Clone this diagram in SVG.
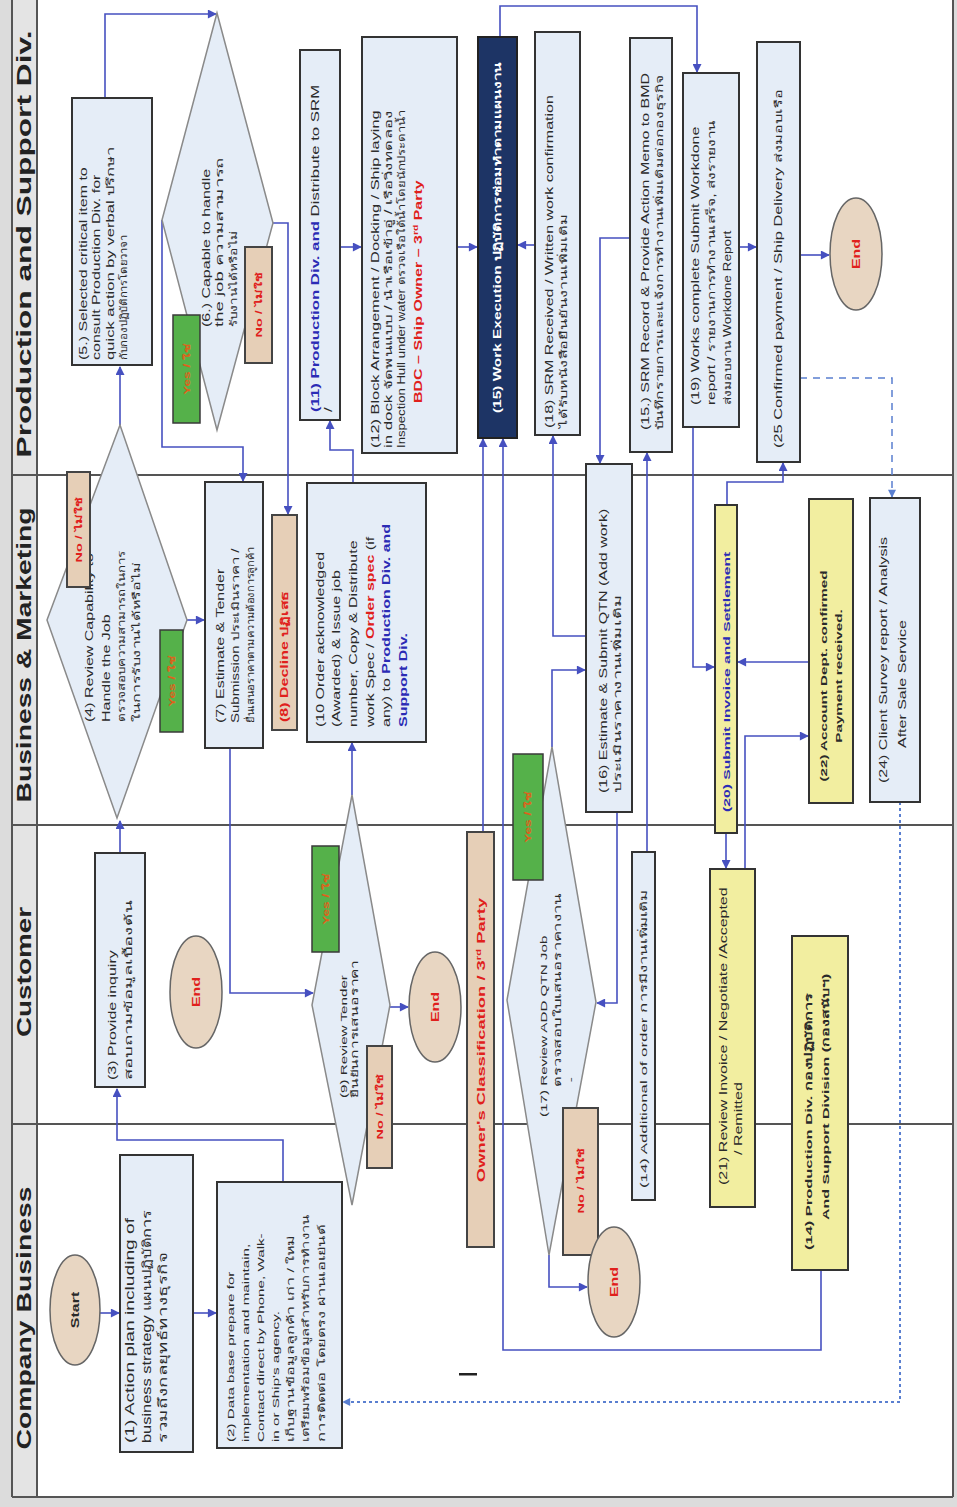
<svg xmlns="http://www.w3.org/2000/svg" width="957" height="1507" viewBox="0 0 957 1507">
<defs>
<marker id="ah" viewBox="0 0 10 10" refX="9" refY="5" markerWidth="10" markerHeight="9" markerUnits="userSpaceOnUse" orient="auto"><path d="M0,0 L10,5 L0,10 z" fill="#4650c0"/></marker>
<marker id="ahd" viewBox="0 0 10 10" refX="9" refY="5" markerWidth="9" markerHeight="8" markerUnits="userSpaceOnUse" orient="auto"><path d="M0,0 L10,5 L0,10 z" fill="#5a7fd0"/></marker>
</defs>
<style>
.t{font-family:"Liberation Sans","Noto Sans","DejaVu Sans",sans-serif;font-size:10px;fill:#2a2a2a}
.bd{font-weight:bold}
.red{fill:#e0201c;font-weight:bold}
.blu{fill:#2b2bb5;font-weight:bold}
.wht{fill:#ffffff;font-weight:bold}
.yes{fill:#e0601a;font-weight:bold;font-size:8.5px}
.no{fill:#e0201c;font-weight:bold;font-size:9px}
.lane{font-family:"Liberation Sans","Noto Sans",sans-serif;font-weight:bold;font-size:21px;fill:#222}
.box{fill:#e5edf7;stroke:#333;stroke-width:2}
.dia{fill:#e5edf7;stroke:#8a8a8a;stroke-width:1.5}
.tan{fill:#e6cfb7;stroke:#444;stroke-width:2}
.grn{fill:#55b14a;stroke:#3a3a3a;stroke-width:1.5}
.yel{fill:#f2eea0;stroke:#333;stroke-width:2}
.nav{fill:#1d3465;stroke:#222;stroke-width:2}
.end{fill:#e8d6c2;stroke:#666;stroke-width:1.5}
.ln{stroke:#555;stroke-width:2;fill:none}
.c{fill:none;stroke:#4650c0;stroke-width:1.6;marker-end:url(#ah)}
.d{fill:none;stroke:#5a7fd0;stroke-width:1.5;stroke-dasharray:7 6;marker-end:url(#ahd)}
.dt{fill:none;stroke:#5a7fd0;stroke-width:2;stroke-dasharray:3 3;marker-end:url(#ahd)}
</style>

<g id="background">
<rect x="0" y="0" width="957" height="1507" fill="#dcdcdc"/>
<rect x="12" y="0" width="942" height="1497" fill="#ffffff"/>
<rect x="12" y="0" width="25" height="1497" fill="#e4e4e4"/>
<path class="ln" d="M12,0 V1497 M37,0 V1497 M953,0 V1497 M12,1497 H953 M12,475 H953 M12,825 H953 M12,1124 H953"/>
<text class="lane" text-anchor="middle" textLength="427" lengthAdjust="spacingAndGlyphs" transform="translate(31,244) rotate(-90)">Production and Support Div.</text>
<text class="lane" text-anchor="middle" textLength="295" lengthAdjust="spacingAndGlyphs" transform="translate(31,655) rotate(-90)">Business &amp; Marketing</text>
<text class="lane" text-anchor="middle" textLength="130" lengthAdjust="spacingAndGlyphs" transform="translate(31,972) rotate(-90)">Customer</text>
<text class="lane" text-anchor="middle" textLength="263" lengthAdjust="spacingAndGlyphs" transform="translate(31,1318) rotate(-90)">Company Business</text>
<rect x="459" y="1373" width="18" height="2.5" fill="#222"/>
</g>

<g id="connectors">
<path class="c" d="M100,1313 H119"/>
<path class="c" d="M193,1313 H216"/>
<path class="c" d="M283,1182 V1140 H117 V1089"/>
<path class="c" d="M120,853 V821"/>
<path class="c" d="M187,620 H204"/>
<path class="c" d="M120,425 V367"/>
<path class="c" d="M105,98 V14 H216"/>
<path class="c" d="M162,220 V447 H243 V481"/>
<path class="c" d="M273,223 H288 V514"/>
<path class="c" d="M230,748 V993 H313"/>
<path class="c" d="M390,1007 H408"/>
<path class="c" d="M352,795 V743"/>
<path class="c" d="M353,483 V450 H330 V421"/>
<path class="c" d="M340,247 H361"/>
<path class="c" d="M457,247 H477"/>
<path class="c" d="M483,832 V439"/>
<path class="c" d="M821,1270 V1350 H503 V439"/>
<path class="c" d="M535,245 H518"/>
<path class="c" d="M500,37 V6 H697 V72"/>
<path class="c" d="M630,238 H600 V463"/>
<path class="c" d="M586,636 H553 V436"/>
<path class="c" d="M552,747 V670 H585"/>
<path class="c" d="M617,812 V1003 H597"/>
<path class="c" d="M549,1255 V1287 H587"/>
<path class="c" d="M647,852 V453"/>
<path class="c" d="M739,247 H756"/>
<path class="c" d="M693,427 V667 H714"/>
<path class="c" d="M800,255 H829"/>
<path class="c" d="M727,505 V482 H783 V463"/>
<path class="c" d="M726,833 V868"/>
<path class="c" d="M745,869 V736 H808"/>
<path class="c" d="M809,662 H738"/>
<path class="d" d="M800,378 H892 V497"/>
<path class="dt" d="M900,802 V1402 H343"/>
</g>

<g id="start">
<ellipse class="end" cx="75" cy="1310" rx="25" ry="55"/>
<text class="t bd" text-anchor="middle" transform="translate(79,1310) rotate(-90) scale(1.6,1)">Start</text>
</g>

<g id="n1">
<rect class="box" x="120" y="1155" width="73" height="297"/>
<text class="t" style="font-size:12px" transform="translate(120,1443) rotate(-90) scale(1.6,1)"><tspan x="0" y="14">(1) Action plan including of</tspan><tspan x="0" y="31" textLength="146" lengthAdjust="spacingAndGlyphs">business strategy แผนปฏิบัติการ</tspan><tspan x="0" y="47" textLength="119" lengthAdjust="spacingAndGlyphs">รวมถึงกลยุทธ์ทางธุรกิจ</tspan></text>
</g>

<g id="n2">
<rect class="box" x="217" y="1182" width="125" height="266"/>
<text class="t" style="font-size:9.5px" transform="translate(217,1442) rotate(-90) scale(1.6,1)"><tspan x="0" y="17">(2)  Data base prepare for</tspan><tspan x="0" y="32">implementation and maintain,</tspan><tspan x="0" y="47">Contact direct by Phone, Walk-</tspan><tspan x="0" y="62">in or Ship's agency.</tspan><tspan x="0" y="77" textLength="129" lengthAdjust="spacingAndGlyphs">เก็บฐานข้อมูลลูกค้า เก่า / ใหม่</tspan><tspan x="0" y="92" textLength="142" lengthAdjust="spacingAndGlyphs">เตรียมพร้อมข้อมูลสำหรับการทำงาน</tspan><tspan x="0" y="108" textLength="136" lengthAdjust="spacingAndGlyphs">การติดต่อ โดยตรง ผ่านเอเย่นต์</tspan></text>
</g>

<g id="n3">
<rect class="box" x="95" y="853" width="50" height="234"/>
<text class="t" transform="translate(95,1080) rotate(-90) scale(1.6,1)"><tspan x="0" y="21">(3) Provide inquiry</tspan><tspan x="0" y="37" textLength="112" lengthAdjust="spacingAndGlyphs">สอบถามข้อมูลเบื้องต้น</tspan></text>
</g>

<g id="end1">
<ellipse class="end" cx="196" cy="992" rx="26" ry="56"/>
<text class="t red" text-anchor="middle" transform="translate(200,992) rotate(-90) scale(1.6,1)">End</text>
</g>

<g id="n4">
<polygon class="dia" points="120,425 187,620 117,818 47,620"/>
<text class="t" transform="translate(47,722) rotate(-90) scale(1.6,1)"><tspan x="0" y="46.5">(4) Review Capability to</tspan><tspan x="0" y="63">Handle the Job</tspan><tspan x="0" y="78.5" textLength="107" lengthAdjust="spacingAndGlyphs">ตรวจสอบความสามารถในการ</tspan><tspan x="0" y="93.5" textLength="100" lengthAdjust="spacingAndGlyphs">ในการรับงานได้หรือไม่</tspan></text>
<rect class="tan" x="67" y="472" width="23" height="115"/>
<text class="t no" text-anchor="middle" transform="translate(82,530) rotate(-90) scale(1.6,1)">No / ไม่ใช่</text>
<rect class="grn" x="160" y="630" width="23" height="102"/>
<text class="t yes" text-anchor="middle" transform="translate(175,681) rotate(-90) scale(1.6,1)">Yes / ใช่</text>
</g>

<g id="n5">
<rect class="box" x="72" y="98" width="80" height="267"/>
<text class="t" transform="translate(72,360) rotate(-90) scale(1.6,1)"><tspan x="0" y="15">(5.) Selected critical item to</tspan><tspan x="0" y="28.5">consult Production Div. for</tspan><tspan x="0" y="42" textLength="133" lengthAdjust="spacingAndGlyphs">quick action by verbal   ปรึกษา</tspan><tspan x="0" y="55" textLength="78" lengthAdjust="spacingAndGlyphs">กับกองปฏิบัติการโดยวาจา</tspan></text>
</g>

<g id="n6">
<polygon class="dia" points="217,13 273,223 217,430 162,220"/>
<text class="t" transform="translate(162,327) rotate(-90) scale(1.6,1)"><tspan x="0" y="48">(6.) Capable to handle</tspan><tspan x="0" y="61.5" textLength="106" lengthAdjust="spacingAndGlyphs">the job ความสามารถ</tspan><tspan x="0" y="75" textLength="60" lengthAdjust="spacingAndGlyphs">รับงานได้หรือไม่</tspan></text>
<rect class="grn" x="173" y="315" width="27" height="108"/>
<text class="t yes" text-anchor="middle" transform="translate(190,369) rotate(-90) scale(1.6,1)">Yes / ใช่</text>
<rect class="tan" x="245" y="247" width="27" height="116"/>
<text class="t no" text-anchor="middle" transform="translate(262,305) rotate(-90) scale(1.6,1)">No / ไม่ใช่</text>
</g>

<g id="n7">
<rect class="box" x="205" y="482" width="58" height="266"/>
<text class="t" transform="translate(205,723) rotate(-90) scale(1.6,1)"><tspan x="0" y="19">(7)    Estimate &amp; Tender</tspan><tspan x="0" y="34" textLength="109" lengthAdjust="spacingAndGlyphs">Submission ประเมินราคา /</tspan><tspan x="0" y="49" textLength="110" lengthAdjust="spacingAndGlyphs">ยื่นเสนอราคาตามความต้องการลูกค้า</tspan></text>
</g>

<g id="n8">
<rect class="tan" x="272" y="515" width="25" height="215"/>
<text class="t red" transform="translate(288,722) rotate(-90) scale(1.6,1)">(8)    Decline ปฏิเสธ</text>
</g>

<g id="n10">
<rect class="box" x="307" y="483" width="119" height="259"/>
<text class="t" transform="translate(307,727) rotate(-90) scale(1.6,1)"><tspan x="0" y="17">(10 Order acknowledged</tspan><tspan x="0" y="33">(Awarded) &amp; Issue job</tspan><tspan x="0" y="50">number, Copy &amp; Distribute</tspan><tspan x="0" y="67">work Spec / <tspan class="red">Order spec</tspan> (if</tspan><tspan x="0" y="83">any) to <tspan class="blu">Production Div. and</tspan></tspan><tspan x="0" y="100" class="blu">Support Div.</tspan></text>
</g>

<g id="n9">
<polygon class="dia" points="352,795 390,1005 352,1205 312,1005"/>
<text class="t" style="font-size:9.5px" transform="translate(312,1098) rotate(-90) scale(1.6,1)"><tspan x="0" y="35">(9)   Review Tender</tspan><tspan x="0" y="46" textLength="86" lengthAdjust="spacingAndGlyphs">ยืนยันการเสนอราคา</tspan></text>
<rect class="grn" x="312" y="846" width="27" height="106"/>
<text class="t yes" text-anchor="middle" transform="translate(329,899) rotate(-90) scale(1.6,1)">Yes / ใช่</text>
<rect class="tan" x="367" y="1046" width="25" height="122"/>
<text class="t no" text-anchor="middle" transform="translate(383,1107) rotate(-90) scale(1.6,1)">No / ไม่ใช่</text>
</g>

<g id="end2">
<ellipse class="end" cx="435" cy="1007" rx="26" ry="55"/>
<text class="t red" text-anchor="middle" transform="translate(439,1007) rotate(-90) scale(1.6,1)">End</text>
</g>

<g id="n11">
<rect class="box" x="300" y="50" width="40" height="370"/>
<text class="t" style="font-size:10.5px" transform="translate(300,412) rotate(-90) scale(1.6,1)"><tspan x="0" y="19"><tspan class="blu">(11)  Production Div. and</tspan> Distribute to SRM</tspan><tspan x="0" y="32">/</tspan></text>
</g>

<g id="n12">
<rect class="box" x="362" y="37" width="95" height="416"/>
<text class="t" transform="translate(362,448) rotate(-90) scale(1.6,1)"><tspan x="0" y="17" textLength="211" lengthAdjust="spacingAndGlyphs">(12) Block Arrangement / Docking / Ship laying</tspan><tspan x="0" y="30" textLength="211" lengthAdjust="spacingAndGlyphs">in dock จัดพนแบบ / นำเรือเข้าอู่ / เรือวิ่งทดลอง</tspan><tspan x="0" y="43" textLength="211" lengthAdjust="spacingAndGlyphs">Inspection Hull under water ตรวจเรือใต้น้ำโดยนักประดาน้ำ</tspan></text>
<text class="t red" transform="translate(362,403) rotate(-90) scale(1.6,1)"><tspan x="0" y="60">BDC – Ship Owner – 3<tspan dy="-3.5" style="font-size:6.5px">rd</tspan><tspan dy="3.5"> Party</tspan></tspan></text>
</g>

<g id="n15">
<rect class="nav" x="478" y="37" width="39" height="401"/>
<text class="t wht" textLength="219" lengthAdjust="spacingAndGlyphs" transform="translate(501,413) rotate(-90) scale(1.6,1)">(15) Work Execution ปฏิบัติการซ่อมทำตามแผนงาน</text>
</g>

<g id="n18">
<rect class="box" x="535" y="32" width="45" height="403"/>
<text class="t" transform="translate(535,428) rotate(-90) scale(1.6,1)"><tspan x="0" y="18">(18) SRM Received / Written work confirmation</tspan><tspan x="0" y="32" textLength="134" lengthAdjust="spacingAndGlyphs">ได้รับหนังสือยืนยันงานเพิ่มเติม</tspan></text>
</g>

<g id="n15b">
<rect class="box" x="630" y="38" width="42" height="414"/>
<text class="t" transform="translate(630,430) rotate(-90) scale(1.6,1)"><tspan x="0" y="19">(15.) SRM Record &amp; Provide Action Memo to BMD</tspan><tspan x="0" y="33" textLength="222" lengthAdjust="spacingAndGlyphs">บันทึกรายการและแจ้งการทำงานเพิ่มเติมต่อกองธุรกิจ</tspan></text>
</g>

<g id="n19">
<rect class="box" x="683" y="73" width="56" height="354"/>
<text class="t" transform="translate(683,405) rotate(-90) scale(1.6,1)"><tspan x="0" y="16">(19) Works complete Submit Workdone</tspan><tspan x="0" y="32" textLength="178" lengthAdjust="spacingAndGlyphs">report / รายงานการทำงานเสร็จ, ส่งรายงาน</tspan><tspan x="0" y="48" textLength="109" lengthAdjust="spacingAndGlyphs">ส่งมอบงาน Workdone Report</tspan></text>
</g>

<g id="n25">
<rect class="box" x="757" y="42" width="43" height="420"/>
<text class="t" transform="translate(757,448) rotate(-90) scale(1.6,1)"><tspan x="0" y="25" textLength="224" lengthAdjust="spacingAndGlyphs">(25 Confirmed payment / Ship Delivery ส่งมอบเรือ</tspan></text>
</g>

<g id="end4">
<ellipse class="end" cx="856" cy="254" rx="26" ry="56"/>
<text class="t red" text-anchor="middle" transform="translate(860,254) rotate(-90) scale(1.6,1)">End</text>
</g>

<g id="n16">
<rect class="box" x="586" y="464" width="46" height="348"/>
<text class="t" transform="translate(586,793) rotate(-90) scale(1.6,1)"><tspan x="0" y="21">(16) Estimate &amp; Submit QTN (Add work)</tspan><tspan x="0" y="35" textLength="124" lengthAdjust="spacingAndGlyphs">ประเมินราคางานเพิ่มเติม</tspan></text>
</g>

<g id="n17">
<polygon class="dia" points="552,747 596,1002 549,1255 507,1000"/>
<text class="t" style="font-size:9.5px" transform="translate(507,1117) rotate(-90) scale(1.6,1)"><tspan x="0" y="40">(17)    Review ADD QTN Job</tspan></text>
<text class="t" style="font-size:9.5px" transform="translate(507,1087) rotate(-90) scale(1.6,1)"><tspan x="0" y="54" textLength="121" lengthAdjust="spacingAndGlyphs">ตรวจสอบใบเสนอราคางาน</tspan><tspan x="3" y="67">-</tspan></text>
<rect class="grn" x="513" y="754" width="30" height="126"/>
<text class="t yes" text-anchor="middle" transform="translate(531,817) rotate(-90) scale(1.6,1)">Yes / ใช่</text>
<rect class="tan" x="563" y="1108" width="35" height="147"/>
<text class="t no" text-anchor="middle" transform="translate(584,1181) rotate(-90) scale(1.6,1)">No / ไม่ใช่</text>
</g>

<g id="end3">
<ellipse class="end" cx="614" cy="1282" rx="26" ry="55"/>
<text class="t red" text-anchor="middle" transform="translate(618,1282) rotate(-90) scale(1.6,1)">End</text>
</g>

<g id="owner">
<rect class="tan" x="467" y="832" width="27" height="415"/>
<text class="t red" style="font-size:11.5px" text-anchor="middle" transform="translate(485,1040) rotate(-90) scale(1.6,1)">Owner's Classification / 3<tspan dy="-4" style="font-size:7px">rd</tspan><tspan dy="4"> Party</tspan></text>
</g>

<g id="n14a">
<rect class="box" x="632" y="852" width="23" height="348"/>
<text class="t" style="font-size:9.5px" textLength="186" lengthAdjust="spacingAndGlyphs" transform="translate(647,1188) rotate(-90) scale(1.6,1)">(14) Additional of order การมีงานเพิ่มเติม</text>
</g>

<g id="n20">
<rect class="yel" x="715" y="505" width="22" height="328"/>
<text class="t blu" style="font-size:9.8px" transform="translate(730,812) rotate(-90) scale(1.6,1)">(20) Submit Invoice and Settlement</text>
</g>

<g id="n21">
<rect class="yel" x="710" y="869" width="45" height="338"/>
<text class="t" transform="translate(710,1185) rotate(-90) scale(1.6,1)"><tspan x="0" y="17">(21) Review Invoice / Negotiate /Accepted</tspan></text>
<text class="t" transform="translate(710,1155) rotate(-90) scale(1.6,1)"><tspan x="0" y="32">/ Remitted</tspan></text>
</g>

<g id="n22">
<rect class="yel" x="809" y="499" width="44" height="304"/>
<text class="t bd" style="font-size:9.5px" text-anchor="middle" transform="translate(809,676) rotate(-90) scale(1.6,1)"><tspan x="0" y="18">(22) Account Dept. confirmed</tspan><tspan x="0" y="33">Payment received.</tspan></text>
</g>

<g id="n24">
<rect class="box" x="870" y="498" width="50" height="304"/>
<text class="t" transform="translate(870,783) rotate(-90) scale(1.6,1)"><tspan x="0" y="17">(24) Client Survey report / Analysis</tspan></text>
<text class="t" transform="translate(870,748) rotate(-90) scale(1.6,1)"><tspan x="0" y="36">After Sale Service</tspan></text>
</g>

<g id="n14">
<rect class="yel" x="792" y="936" width="56" height="334"/>
<text class="t bd" style="font-size:9.5px" transform="translate(792,1250) rotate(-90) scale(1.6,1)"><tspan x="0" y="20" textLength="161" lengthAdjust="spacingAndGlyphs">(14) Production Div. กองปฏิบัติการ</tspan></text>
<text class="t bd" style="font-size:9.5px" transform="translate(792,1220) rotate(-90) scale(1.6,1)"><tspan x="0" y="37" textLength="154" lengthAdjust="spacingAndGlyphs">And Support Division (กองสนับฯ)</tspan></text>
</g>
</svg>
